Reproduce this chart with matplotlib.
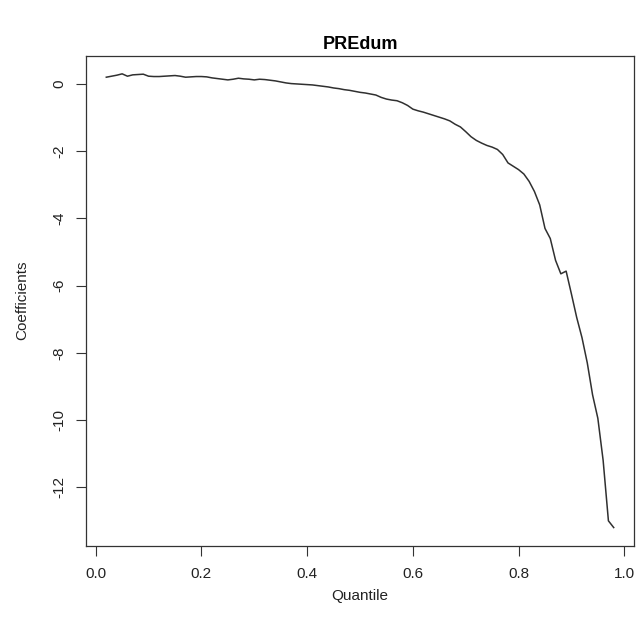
import matplotlib
matplotlib.use("Agg")
import matplotlib.pyplot as plt
import numpy as np

plt.rcParams['font.family'] = ['Liberation Sans', 'DejaVu Sans']

quantile = [0.02, 0.03, 0.04, 0.05, 0.06, 0.07, 0.08, 0.09, 0.10, 0.11,
            0.12, 0.13, 0.14, 0.15, 0.16, 0.17, 0.18, 0.19, 0.20, 0.21,
            0.22, 0.23, 0.24, 0.25, 0.26, 0.27, 0.28, 0.29, 0.30, 0.31,
            0.32, 0.33, 0.34, 0.35, 0.36, 0.37, 0.38, 0.39, 0.40, 0.41,
            0.42, 0.43, 0.44, 0.45, 0.46, 0.47, 0.48, 0.49, 0.50, 0.51,
            0.52, 0.53, 0.54, 0.55, 0.56, 0.57, 0.58, 0.59, 0.60, 0.61,
            0.62, 0.63, 0.64, 0.65, 0.66, 0.67, 0.68, 0.69, 0.70, 0.71,
            0.72, 0.73, 0.74, 0.75, 0.76, 0.77, 0.78, 0.79, 0.80, 0.81,
            0.82, 0.83, 0.84, 0.85, 0.86, 0.87, 0.88, 0.89, 0.90, 0.91,
            0.92, 0.93, 0.94, 0.95, 0.96, 0.97, 0.98]
coefficients = [0.20, 0.23, 0.26, 0.30, 0.23, 0.27, 0.28, 0.29, 0.23, 0.22,
                0.22, 0.23, 0.24, 0.25, 0.23, 0.20, 0.21, 0.22, 0.22, 0.21,
                0.18, 0.16, 0.14, 0.12, 0.14, 0.17, 0.15, 0.14, 0.12, 0.14,
                0.13, 0.11, 0.09, 0.06, 0.03, 0.01, 0.00, -0.01, -0.02, -0.03,
                -0.05, -0.07, -0.09, -0.12, -0.14, -0.17, -0.19, -0.22, -0.25, -0.27,
                -0.30, -0.33, -0.40, -0.45, -0.48, -0.50, -0.56, -0.64, -0.75, -0.80,
                -0.84, -0.89, -0.94, -0.99, -1.04, -1.10, -1.20, -1.28, -1.42, -1.57,
                -1.68, -1.76, -1.83, -1.88, -1.95, -2.10, -2.35, -2.45, -2.55, -2.68,
                -2.90, -3.20, -3.60, -4.30, -4.60, -5.25, -5.65, -5.57, -6.25, -6.95,
                -7.55, -8.30, -9.25, -9.95, -11.20, -13.00, -13.20]
x_ticks = [0.0, 0.2, 0.4, 0.6, 0.8, 1.0]
y_ticks = [0, -2, -4, -6, -8, -10, -12]

fig = plt.figure(figsize=(6.37, 6.27), dpi=100)
left, right, top, bottom = 86, 634, 55.7, 545.7
ax = fig.add_axes([left/637, 1 - bottom/627, (right - left)/637, (bottom - top)/627])
ax.plot(quantile, coefficients, color='#303030', lw=1.1)

# R-style 4% axis extension
xr = max(quantile) - min(quantile)
yr = max(coefficients) - min(coefficients)
ax.set_xlim(min(quantile) - 0.04 * xr, max(quantile) + 0.04 * xr)
ax.set_ylim(min(coefficients) - 0.04 * yr, max(coefficients) + 0.04 * yr)

ax.set_xticks(x_ticks)
ax.set_xticklabels(['0.0', '0.2', '0.4', '0.6', '0.8', '1.0'])
ax.set_yticks(y_ticks)
ax.set_yticklabels([str(v) for v in y_ticks], rotation=90, va='center')
ax.tick_params(direction='out', length=7, width=0.8, color='#333333',
               labelsize=11, labelcolor='#222222')
ax.tick_params(axis='x', pad=8)
ax.tick_params(axis='y', pad=7)
for s in ax.spines.values():
    s.set_color('#333333')
    s.set_linewidth(0.9)

ax.set_xlabel('Quantile', fontsize=11, labelpad=6, color='#222222')
ax.set_ylabel('Coefficients', fontsize=11, labelpad=17, color='#222222')
ax.set_title('PREdum', fontsize=13, fontweight='bold', pad=5)

fig.savefig('out.png', dpi=100)
